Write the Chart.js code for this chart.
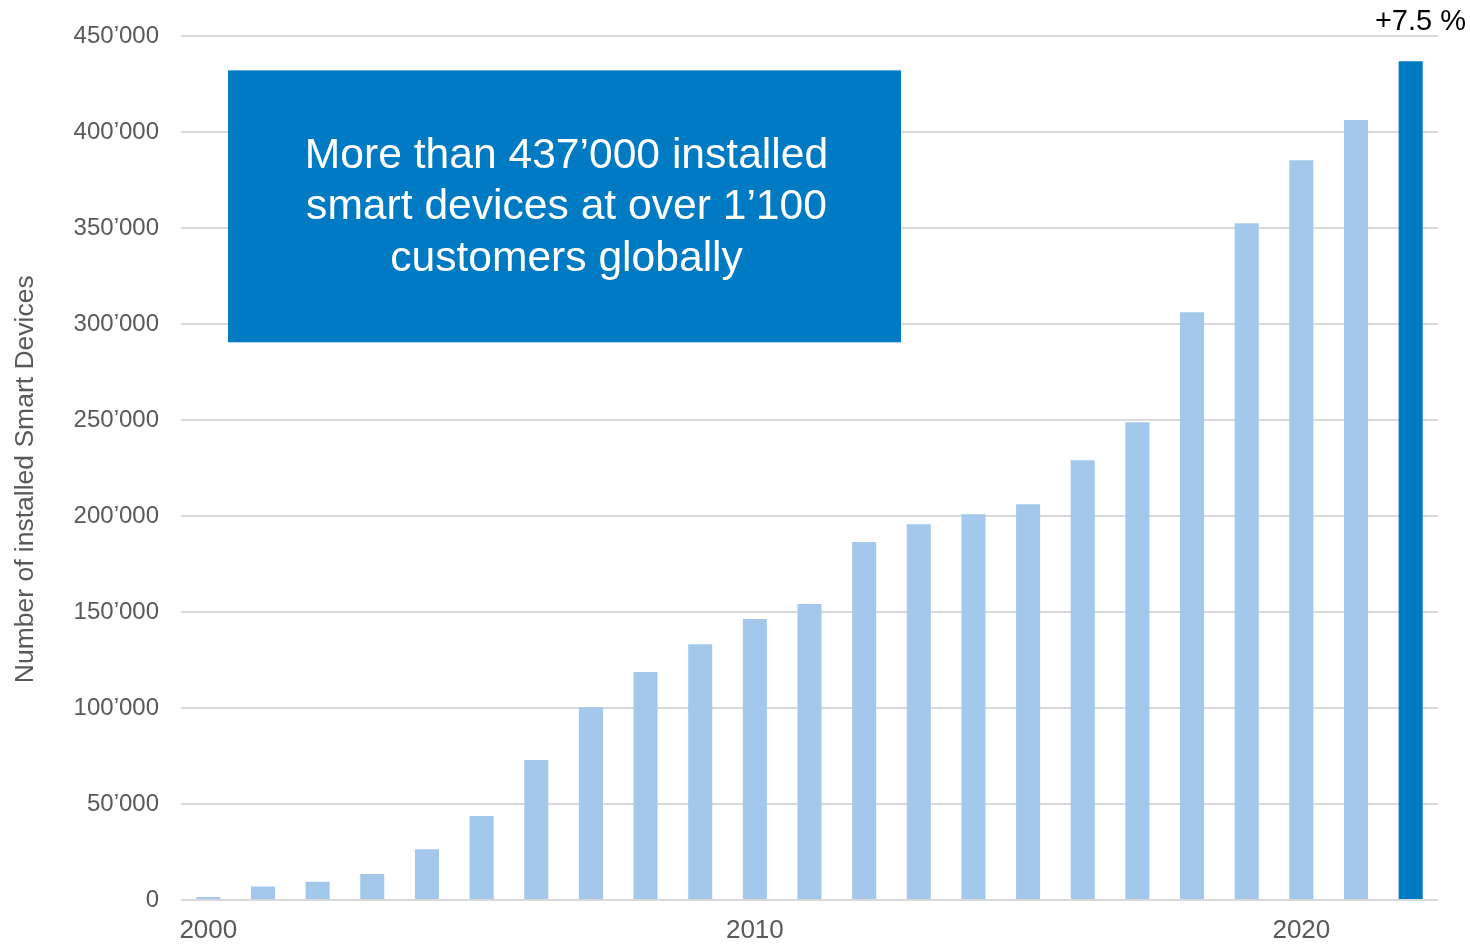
<!DOCTYPE html>
<html>
<head>
<meta charset="utf-8">
<script src="https://cdn.jsdelivr.net/npm/chart.js@4/dist/chart.umd.min.js"></script>
<style>
  html, body { margin: 0; padding: 0; background: #fff; }
  #wrap { width: 1470px; height: 946px; }
</style>
</head>
<body>
<div id="wrap"><canvas id="devices"></canvas></div>
<script>
// installed smart devices per year
const years = ['2000', '2001', '2002', '2003', '2004', '2005', '2006', '2007', '2008', '2009', '2010', '2011',
  '2012', '2013', '2014', '2015', '2016', '2017', '2018', '2019', '2020', '2021', '2022'];
const devices = [1500, 7000, 9500, 13500, 26500, 43800, 73000, 100500, 118800, 133300, 146400, 154200,
  186500, 195800, 201000, 206200, 229200, 249000, 306200, 352600, 385400, 406500, 437000];
const shownYears = ['2000', '2010', '2020'];
const calloutLines = ['More than 437’000 installed', 'smart devices at over 1’100', 'customers globally'];

const LIGHT = '#A3C8EB';
const DARK = '#007AC2';
const GREY = '#595959';
const FONT = '"Liberation Sans", Arial, sans-serif';

const fmt = v => Math.round(v).toLocaleString('en-US').replace(/,/g, '’');

// blue callout box + growth label above the latest bar
const overlay = {
  id: 'overlay',
  afterDraw(chart) {
    const { ctx, chartArea: a, scales } = chart;
    const w = a.right - a.left;
    const left = a.left + w * 0.0374;
    const right = a.left + w * 0.5728;
    const top = scales.y.getPixelForValue(432300);
    const bottom = scales.y.getPixelForValue(290600);
    ctx.save();
    ctx.fillStyle = DARK;
    ctx.fillRect(left, top, right - left, bottom - top);
    ctx.fillStyle = '#fff';
    ctx.font = `42.6px ${FONT}`;
    ctx.textAlign = 'center';
    ctx.textBaseline = 'middle';
    const cx = (left + right) / 2 + 2;
    const cy = (top + bottom) / 2 + 1;
    const lh = 51.5;
    calloutLines.forEach((t, i) => {
      ctx.fillText(t, cx, cy + (i - (calloutLines.length - 1) / 2) * lh);
    });

    const n = devices.length;
    const growth = (devices[n - 1] / devices[n - 2] - 1) * 100;
    ctx.fillStyle = '#000';
    ctx.font = `29px ${FONT}`;
    ctx.textAlign = 'right';
    ctx.fillText(`+${growth.toFixed(1)} %`, chart.width - 4, 22);
    ctx.restore();
  }
};

// the axis title sits a little below the middle of the axis
const yTitle = 'Number of installed Smart Devices   ';

new Chart(document.getElementById('devices'), {
  type: 'bar',
  data: {
    labels: years,
    datasets: [{
      data: devices,
      backgroundColor: devices.map((_, i) => i === devices.length - 1 ? DARK : LIGHT),
      borderWidth: 0,
      categoryPercentage: 1,
      barPercentage: 0.44
    }]
  },
  options: {
    responsive: true,
    maintainAspectRatio: false,
    animation: false,
    layout: { padding: { top: 21, right: 32, left: 0, bottom: 0 } },
    plugins: { legend: { display: false }, tooltip: { enabled: false } },
    scales: {
      x: {
        grid: { display: false, drawTicks: false },
        border: { display: false },
        ticks: {
          autoSkip: false,
          maxRotation: 0,
          padding: 15,
          color: GREY,
          font: { family: FONT, size: 26 },
          callback(v) {
            const y = this.getLabelForValue(v);
            return shownYears.includes(y) ? y : '';
          }
        },
        afterFit(axis) { axis.height = 46; }
      },
      y: {
        min: 0,
        max: 450000,
        grid: { color: '#D9D9D9', lineWidth: 2, drawTicks: false },
        border: { display: false },
        ticks: {
          stepSize: 50000,
          padding: 22,
          color: GREY,
          font: { family: FONT, size: 24 },
          callback: v => fmt(v)
        },
        title: {
          display: true,
          text: yTitle,
          color: GREY,
          font: { family: FONT, size: 26.5 },
          padding: { top: 10, bottom: 0 }
        },
        afterFit(axis) { axis.width = 181; }
      }
    }
  },
  plugins: [overlay]
});
</script>
</body>
</html>
